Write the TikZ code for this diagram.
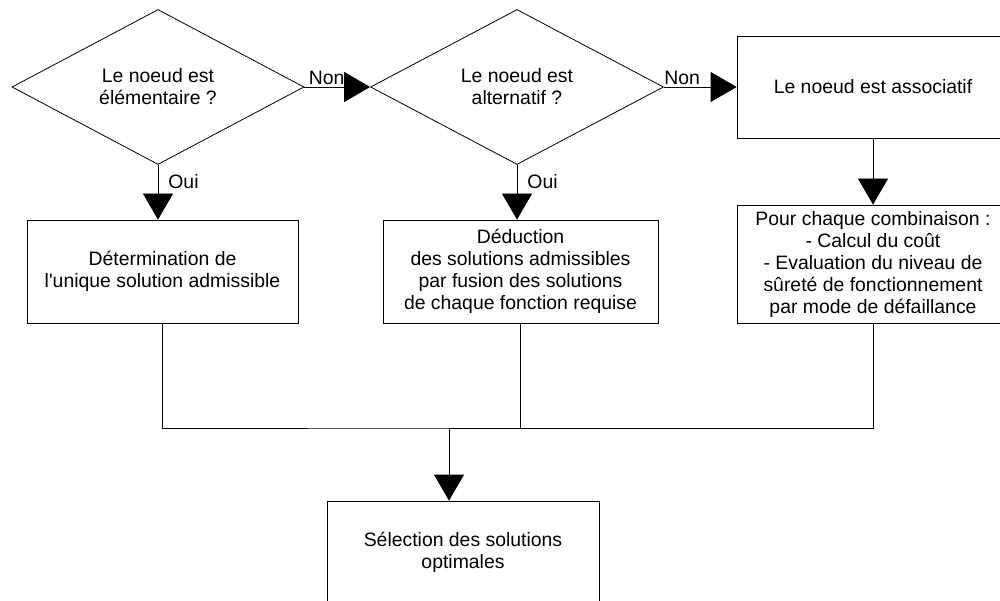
\documentclass[tikz,border=0pt]{standalone}
\usepackage{fontspec}
\setmainfont{Liberation Sans}
\usetikzlibrary{shapes.geometric,arrows.meta}
\begin{document}
\begin{tikzpicture}[x=1pt,y=-1pt,
  txt/.style={font=\fontsize{19.4}{22}\selectfont},
  dec/.style={txt, draw, diamond, minimum width=292pt, minimum height=155pt, inner sep=0pt, align=center, line width=0.8pt},
  box/.style={txt, draw, rectangle, align=center, inner sep=0pt, line width=0.8pt},
  conn/.style={line width=0.8pt},
  arr/.style={conn, -{Triangle[length=26pt,width=30pt]}},
  lbl/.style={txt, inner sep=2pt}
]
\useasboundingbox (0,0) rectangle (1000,601);
\clip (0,0) rectangle (1000,601);

\node[dec] (d1) at (158,87) {Le noeud est\\élémentaire ?};
\node[dec, minimum width=293pt] (d2) at (517,87) {Le noeud est\\alternatif ?};
\node[box, minimum width=272pt, minimum height=102pt] (b3) at (873,87) {Le noeud est associatif};
\node[box, minimum width=272pt, minimum height=118pt] (b4) at (873,264) {Pour chaque combinaison :\\- Calcul du coût\\- Evaluation du niveau de\\sûreté de fonctionnement\\par mode de défaillance};
\node[box, minimum width=271pt, minimum height=103pt] (b1) at (162.5,271.5) {Détermination de\\l\textquotesingle unique solution admissible};
\node[box, minimum width=275pt, minimum height=103pt] (b2) at (520.5,271.5) {Déduction\\des solutions admissibles\\par fusion des solutions\\de chaque fonction requise};
\node[box, minimum width=272pt, minimum height=102pt] (b5) at (463,552) {Sélection des solutions\\optimales};
\coordinate (j) at (449,428);

\draw[arr] (d1.east) -- node[lbl, anchor=south west, pos=0, xshift=2pt] {Non} (d2.west);
\draw[arr] (d2.east) -- node[lbl, anchor=south west, pos=0, xshift=-2pt] {Non} (b3.west);
\draw[arr] (d1.south) -- node[lbl, right, pos=0.3, xshift=8pt] {Oui} (d1.south |- b1.north);
\draw[arr] (d2.south) -- node[lbl, right, pos=0.3, xshift=8pt] {Oui} (d2.south |- b2.north);
\draw[arr] (b3.south) -- (b4.north);
\draw[conn] (b1.south) |- (j) -| (b2.south);
\draw[conn] (b4.south) |- (j);
\draw[arr] (j) -- (j |- b5.north);
\end{tikzpicture}
\end{document}
